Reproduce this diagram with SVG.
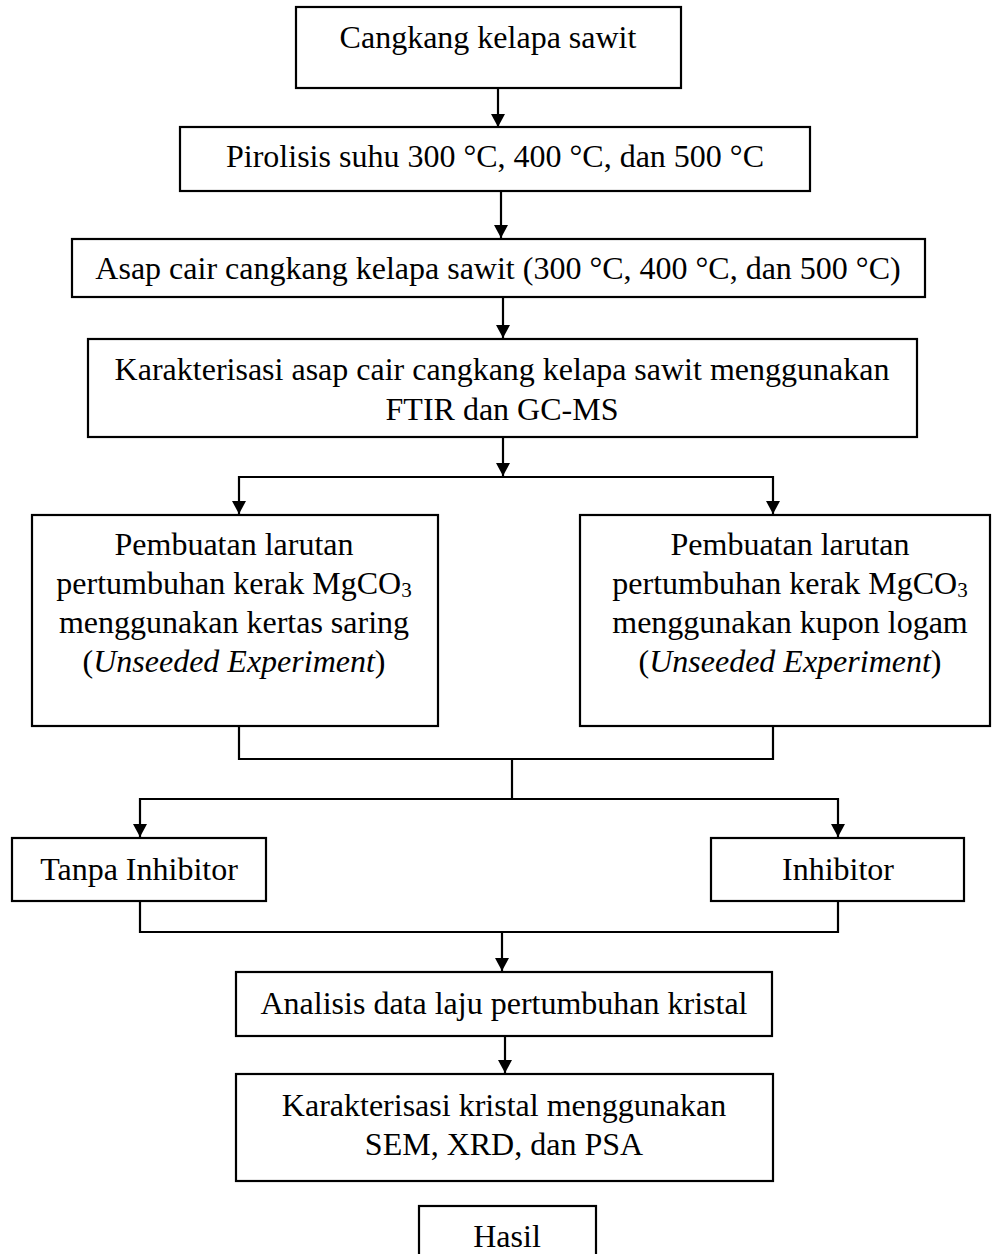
<svg xmlns="http://www.w3.org/2000/svg" width="992" height="1254" viewBox="0 0 992 1254">
<style>
.box{fill:#fff;stroke:#000;stroke-width:2.2}
.t{font-family:"Liberation Serif","Times New Roman",serif;font-size:32px;fill:#000;text-anchor:middle}
.c{fill:none;stroke:#000;stroke-width:2.2}
.sub{font-size:21px}
.it{font-style:italic}
</style>
<defs>
<marker id="ah" viewBox="0 0 13 14" refX="13" refY="7" markerWidth="13" markerHeight="14" markerUnits="userSpaceOnUse" orient="auto">
<path d="M0,0 L13,7 L0,14 z" fill="#000"/>
</marker>
</defs>
<rect width="992" height="1254" fill="#fff"/>
<g id="connectors">
<path class="c" d="M498,88 V127" marker-end="url(#ah)"/>
<path class="c" d="M501,191 V238" marker-end="url(#ah)"/>
<path class="c" d="M503,297 V338" marker-end="url(#ah)"/>
<path class="c" d="M503,437 V476" marker-end="url(#ah)"/>
<path class="c" d="M503,477 H239 V514" marker-end="url(#ah)"/>
<path class="c" d="M503,477 H773 V514" marker-end="url(#ah)"/>
<path class="c" d="M239,726 V759 H773 V726"/>
<path class="c" d="M512,759 V799"/>
<path class="c" d="M512,799 H140 V837" marker-end="url(#ah)"/>
<path class="c" d="M512,799 H838 V837" marker-end="url(#ah)"/>
<path class="c" d="M140,901 V932 H838 V901"/>
<path class="c" d="M502,932 V971" marker-end="url(#ah)"/>
<path class="c" d="M505,1036 V1073" marker-end="url(#ah)"/>
</g>
<g id="n1"><rect class="box" x="296" y="7" width="385" height="81"/><text class="t" x="488" y="48">Cangkang kelapa sawit</text></g>
<g id="n2"><rect class="box" x="180" y="127" width="630" height="64"/><text class="t" x="495" y="167">Pirolisis suhu 300 °C, 400 °C, dan 500 °C</text></g>
<g id="n3"><rect class="box" x="72" y="239" width="853" height="58"/><text class="t" x="498" y="279">Asap cair cangkang kelapa sawit (300 °C, 400 °C, dan 500 °C)</text></g>
<g id="n4"><rect class="box" x="88" y="339" width="829" height="98"/><text class="t" x="502" y="380">Karakterisasi asap cair cangkang kelapa sawit menggunakan</text><text class="t" x="502" y="420">FTIR dan GC-MS</text></g>
<g id="n5"><rect class="box" x="32" y="515" width="406" height="211"/>
<text class="t" x="234" y="555">Pembuatan larutan</text>
<text class="t" x="234" y="594">pertumbuhan kerak MgCO<tspan class="sub" dy="3">3</tspan></text>
<text class="t" x="234" y="633">menggunakan kertas saring</text>
<text class="t" x="234" y="672">(<tspan class="it">Unseeded Experiment</tspan>)</text></g>
<g id="n6"><rect class="box" x="580" y="515" width="410" height="211"/>
<text class="t" x="790" y="555">Pembuatan larutan</text>
<text class="t" x="790" y="594">pertumbuhan kerak MgCO<tspan class="sub" dy="3">3</tspan></text>
<text class="t" x="790" y="633">menggunakan kupon logam</text>
<text class="t" x="790" y="672">(<tspan class="it">Unseeded Experiment</tspan>)</text></g>
<g id="n7"><rect class="box" x="12" y="838" width="254" height="63"/><text class="t" x="139" y="880">Tanpa Inhibitor</text></g>
<g id="n8"><rect class="box" x="711" y="838" width="253" height="63"/><text class="t" x="838" y="880">Inhibitor</text></g>
<g id="n9"><rect class="box" x="236" y="972" width="536" height="64"/><text class="t" x="504" y="1014">Analisis data laju pertumbuhan kristal</text></g>
<g id="n10"><rect class="box" x="236" y="1074" width="537" height="107"/><text class="t" x="504" y="1116">Karakterisasi kristal menggunakan</text><text class="t" x="504" y="1155">SEM, XRD, dan PSA</text></g>
<g id="n11"><rect class="box" x="419" y="1206" width="177" height="60"/><text class="t" x="507" y="1247">Hasil</text></g>
</svg>
